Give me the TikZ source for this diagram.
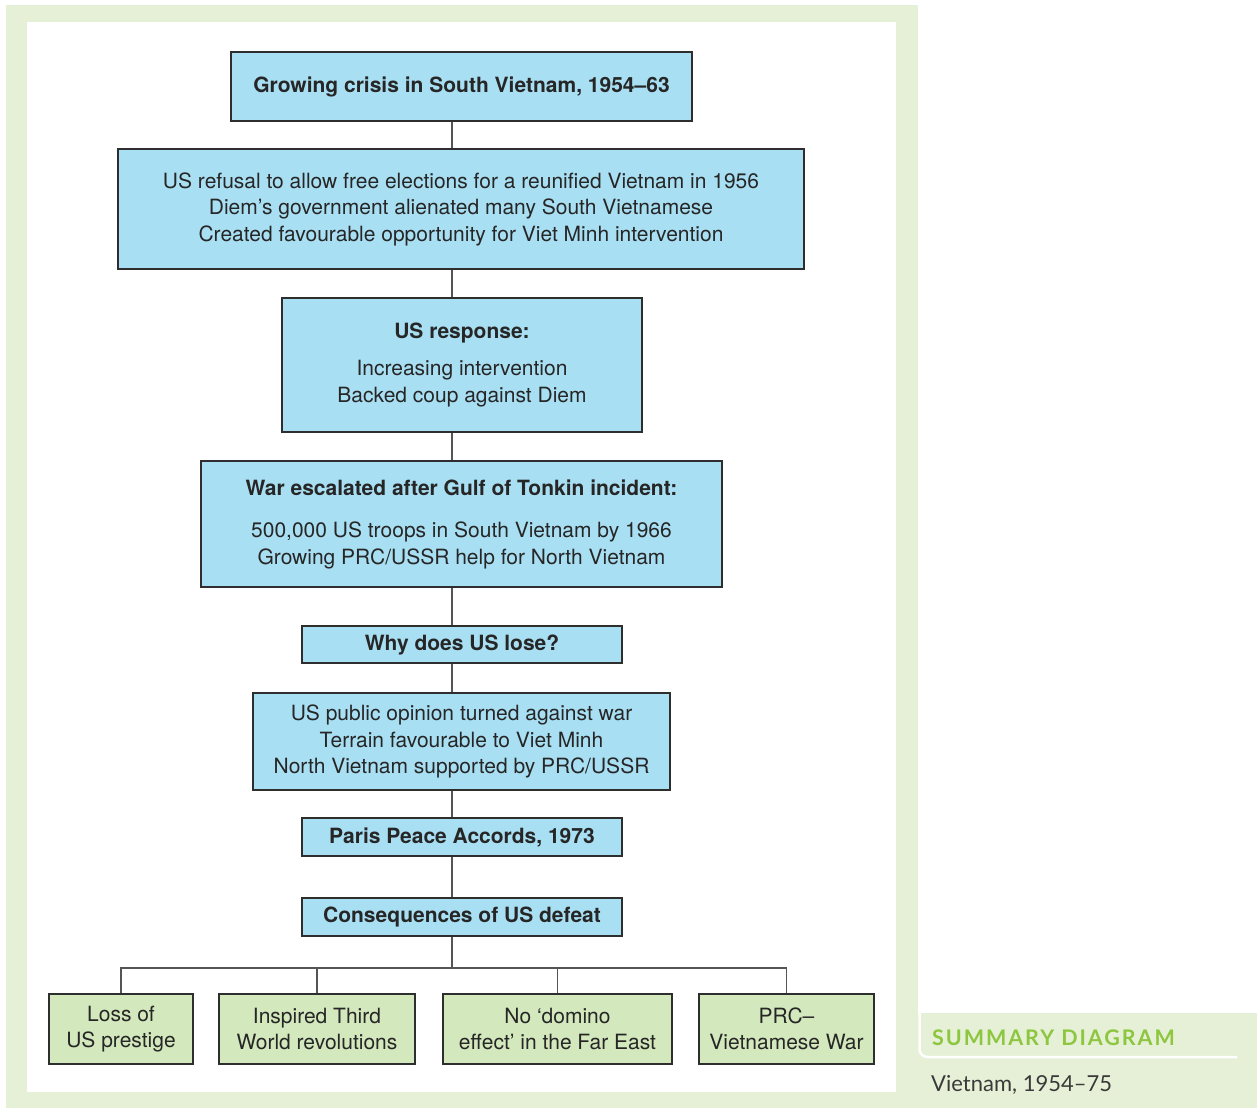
\documentclass[tikz,border=0pt]{standalone}
\usepackage{fontspec}
\setmainfont{TeX Gyre Heros}
\newfontfamily\captionfont[LetterSpace=9]{Lato}
\newfontfamily\subcaptionfont{Lato}
\definecolor{panelgreen}{HTML}{E6F0D6}
\definecolor{boxblue}{HTML}{A9DFF3}
\definecolor{boxgreen}{HTML}{D3E8BC}
\definecolor{edgegrey}{HTML}{2E2E2E}
\definecolor{linkgrey}{HTML}{555555}
\definecolor{titlegreen}{HTML}{8DC63F}
\definecolor{captiongrey}{HTML}{3A3A3A}
\begin{document}
\begin{tikzpicture}[x=1pt,y=-1pt,
  card/.style={draw=edgegrey, line width=1.3pt, fill=boxblue, align=center,
    inner sep=0pt, font=\fontsize{21}{26.5}\selectfont, text=black!85},
  leaf/.style={card, fill=boxgreen},
  link/.style={draw=linkgrey, line width=1.5pt}]
  \useasboundingbox (0,0) rectangle (1257,1108);
  % page frame
  \fill[white] (0,0) rectangle (1257,1108);
  \fill[panelgreen] (6,5) rectangle (918,1108);
  \fill[white] (27,22) rectangle (896,1092);
  \fill[panelgreen] (918,1013) rectangle (1257,1108);
  \draw[white, line width=2.5pt] (919.5,1008) -- (919.5,1049) arc[start angle=180, end angle=90, radius=8] -- (1237,1057);
  % caption
  \node[anchor=base west, inner sep=0pt, text=titlegreen, font=\captionfont\bfseries\fontsize{21.5}{24}\selectfont] (cap) at (932,1045) {SUMMARY DIAGRAM};
  \node[anchor=base west, inner sep=0pt, text=captiongrey, font=\subcaptionfont\fontsize{22}{26}\selectfont] (subcap) at (931,1091) {Vietnam, 1954–75};
  % column of boxes
  \coordinate (spine) at (452,0);
  \node[card, minimum width=461, minimum height=69] (b1) at (461.5,86.5) {\bfseries Growing crisis in South Vietnam, 1954–63};
  \node[card, minimum width=686, minimum height=120] (b2) at (461,209)
    {US refusal to allow free elections for a reunified Vietnam in 1956\\
     Diem’s government alienated many South Vietnamese\\
     Created favourable opportunity for Viet Minh intervention};
  \node[card, minimum width=360, minimum height=134] (b3) at (462,365)
    {\bfseries US response:\\[11pt]Increasing intervention\\Backed coup against Diem};
  \node[card, minimum width=521, minimum height=126] (b4) at (461.5,524)
    {\bfseries War escalated after Gulf of Tonkin incident:\\[16pt]
     500,000 US troops in South Vietnam by 1966\\
     Growing PRC/USSR help for North Vietnam};
  \node[card, minimum width=320, minimum height=37] (b5) at (462,644.5) {\bfseries Why does US lose?};
  \node[card, minimum width=417, minimum height=97] (b6) at (461.5,741.5)
    {US public opinion turned against war\\
     Terrain favourable to Viet Minh\\
     North Vietnam supported by PRC/USSR};
  \node[card, minimum width=320, minimum height=38] (b7) at (462,837) {\bfseries Paris Peace Accords, 1973};
  \node[card, minimum width=320, minimum height=38] (b8) at (462,917) {\bfseries Consequences of US defeat};
  % outcomes
  \node[leaf, minimum width=144, minimum height=70] (c1) at (121,1029) {Loss of\\US prestige};
  \node[leaf, minimum width=196, minimum height=70] (c2) at (317,1029) {Inspired Third\\World revolutions};
  \node[leaf, minimum width=229, minimum height=70] (c3) at (557.5,1029) {No ‘domino\\effect’ in the Far East};
  \node[leaf, minimum width=175, minimum height=70] (c4) at (786.5,1029) {PRC–\\Vietnamese War};
  % connectors
  \foreach \a/\b in {b1/b2,b2/b3,b3/b4,b4/b5,b5/b6,b6/b7,b7/b8}
    \draw[link] (\a.south -| spine) -- (\b.north -| spine);
  \coordinate (bus) at (452,968);
  \draw[link] (b8.south -| spine) -- (bus);
  \draw[link] (c1.north) -- (c1.north |- bus) -- (c4.north |- bus) -- (c4.north);
  \draw[link] (c2.north) -- (c2.north |- bus);
  \draw[link] (c3.north) -- (c3.north |- bus);
\end{tikzpicture}
\end{document}
